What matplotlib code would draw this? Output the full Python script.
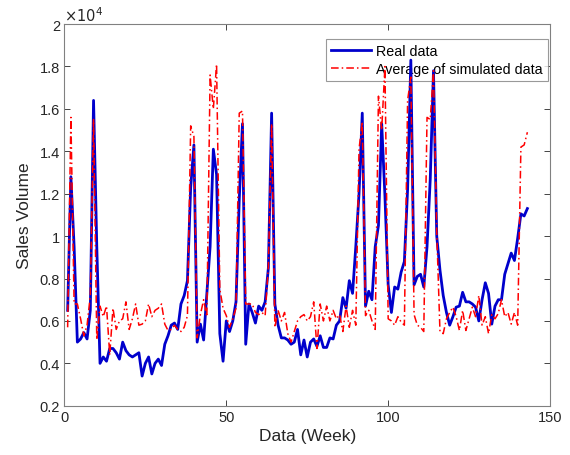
import numpy as np
import matplotlib
matplotlib.use("Agg")
import matplotlib.pyplot as plt

# values in units of 10^4
real_data = [
    0.65, 1.28, 0.95, 0.50, 0.515, 0.545, 0.515, 0.65, 1.64, 0.95,
    0.40, 0.43, 0.41, 0.47, 0.47, 0.45, 0.42, 0.50, 0.46, 0.44,
    0.43, 0.44, 0.45, 0.34, 0.40, 0.43, 0.35, 0.40, 0.42, 0.39,
    0.49, 0.53, 0.58, 0.59, 0.56, 0.68, 0.72, 0.79, 1.23, 1.43,
    0.50, 0.585, 0.51, 0.73, 0.95, 1.41, 1.29, 0.54, 0.41, 0.60,
    0.55, 0.60, 0.69, 1.17, 1.53, 0.49, 0.68, 0.64, 0.59, 0.67,
    0.65, 0.69, 0.85, 1.58, 0.68, 0.58, 0.52, 0.52, 0.51, 0.49,
    0.50, 0.56, 0.44, 0.51, 0.43, 0.50, 0.515, 0.48, 0.53, 0.475,
    0.475, 0.52, 0.515, 0.58, 0.60, 0.71, 0.66, 0.79, 0.73, 0.95,
    1.20, 1.58, 0.67, 0.74, 0.70, 0.95, 1.05, 1.53, 1.19, 0.77,
    0.64, 0.76, 0.75, 0.83, 0.88, 1.22, 1.83, 0.77, 0.81, 0.82,
    0.76, 0.95, 1.27, 1.78, 1.00, 0.84, 0.72, 0.64, 0.58, 0.62,
    0.665, 0.67, 0.735, 0.69, 0.69, 0.68, 0.665, 0.60, 0.70, 0.78,
    0.73, 0.585, 0.67, 0.70, 0.70, 0.82, 0.87, 0.92, 0.885, 0.99,
    1.105, 1.095, 1.13,
]

simulated_avg = [
    0.57, 1.56, 0.68, 0.68, 0.61, 0.53, 0.58, 0.72, 1.55, 0.51,
    0.67, 0.62, 0.67, 0.44, 0.66, 0.56, 0.60, 0.61, 0.69, 0.56,
    0.61, 0.68, 0.58, 0.585, 0.60, 0.68, 0.62, 0.65, 0.66, 0.68,
    0.585, 0.555, 0.56, 0.58, 0.56, 0.55, 0.57, 0.625, 1.52, 1.47,
    0.52, 0.63, 0.70, 0.62, 1.76, 1.60, 1.81, 0.75, 0.66, 0.625,
    0.57, 0.61, 0.66, 1.58, 1.59, 0.68, 0.68, 0.68, 0.64, 0.63,
    0.64, 0.625, 0.86, 1.53, 0.57, 0.65, 0.60, 0.64, 0.54, 0.50,
    0.55, 0.60, 0.62, 0.63, 0.60, 0.62, 0.69, 0.47, 0.68, 0.60,
    0.67, 0.60, 0.65, 0.61, 0.63, 0.55, 0.67, 0.57, 0.65, 0.58,
    1.41, 1.54, 0.625, 0.65, 0.60, 0.56, 1.66, 1.50, 1.80, 0.61,
    0.60, 0.58, 0.62, 0.595, 0.58, 1.64, 1.75, 0.63, 0.58, 0.57,
    0.55, 1.56, 1.55, 1.78, 1.02, 0.55, 0.54, 0.61, 0.64, 0.665,
    0.62, 0.555, 0.65, 0.555, 0.61, 0.665, 0.62, 0.72, 0.58, 0.62,
    0.54, 0.63, 0.61, 0.635, 0.70, 0.62, 0.64, 0.585, 0.64, 0.58,
    1.42, 1.43, 1.49,
]

x_ticks = [0, 50, 100, 150]
y_ticks = [0.2, 0.4, 0.6, 0.8, 1.0, 1.2, 1.4, 1.6, 1.8, 2.0]
y_tick_labels = ["0.2", "0.4", "0.6", "0.8", "1", "1.2", "1.4", "1.6", "1.8", "2"]

plt.rcParams['font.family'] = ['Liberation Sans', 'DejaVu Sans']

weeks_real = np.arange(1, len(real_data) + 1)
weeks_sim = np.arange(1, len(simulated_avg) + 1)

fig = plt.figure(figsize=(5.7, 4.56), dpi=100)
ax = fig.add_axes([0.113, 0.108, 0.852, 0.837])

dark = '#262626'
ax.plot(weeks_real, real_data, color='#0000CC', lw=2.0, zorder=6,
        label='Real data')
ax.plot(weeks_sim, simulated_avg, color='red', lw=1.1, ls='-.',
        dashes=(5, 2, 1, 2), zorder=7, label='Average of simulated data')

ax.set_xlim(0, 150)
ax.set_ylim(0.2, 2.0)
ax.set_xticks(x_ticks)
ax.set_yticks(y_ticks)
ax.set_yticklabels(y_tick_labels)
ax.tick_params(direction='in', top=True, right=True, length=4, width=0.6,
               colors=dark, labelsize=10.5, labelcolor=dark, pad=3)
for s in ax.spines.values():
    s.set_color('#808080')
    s.set_linewidth(0.8)

ax.set_xlabel('Data (Week)', fontsize=12.5, color=dark, labelpad=3)
ax.set_ylabel('Sales Volume', fontsize=12.5, color=dark, labelpad=6)
ax.text(0.0, 1.0, r'$\times10^{4}$', transform=ax.transAxes, fontsize=10.5,
        color=dark, ha='left', va='bottom')

leg = ax.legend(loc='upper right', bbox_to_anchor=(0.996, 0.962), fontsize=10.3,
                frameon=True, fancybox=False, handlelength=2.8,
                borderpad=0.35, labelspacing=0.3, handletextpad=0.4,
                borderaxespad=0.0)
leg.get_frame().set_edgecolor('#808080')
leg.get_frame().set_linewidth(0.8)
leg.set_zorder(2)
for t in leg.get_texts():
    t.set_color('black')

fig.savefig('out.png', dpi=100)
